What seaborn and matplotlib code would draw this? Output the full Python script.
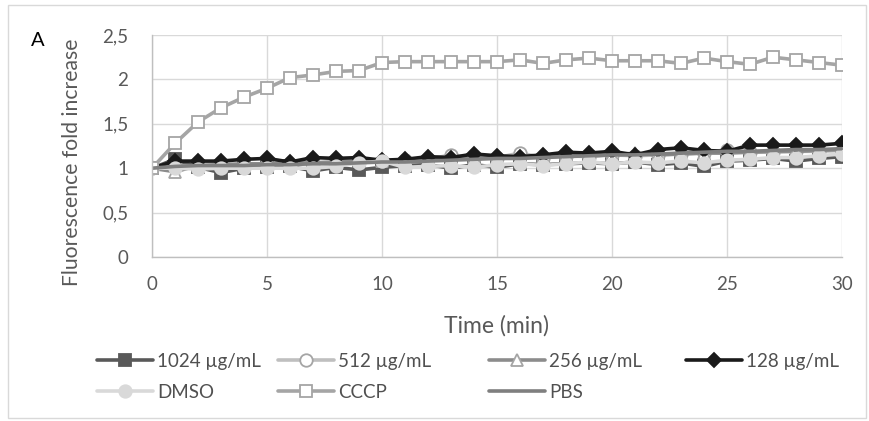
import matplotlib
matplotlib.use("Agg")
import matplotlib.pyplot as plt
import seaborn as sns
import pandas as pd
from matplotlib.patches import Rectangle

sns.set_theme(style="white")
plt.rcParams['font.family'] = ['Lato', 'DejaVu Sans']

# ---------------- data ----------------
time_min = list(range(31))
c1024 = [1.00, 1.10, 1.01, 0.95, 1.00, 1.01, 1.02, 0.97, 1.01, 0.98, 1.01, 1.03, 1.04, 1.00, 1.04, 1.01,
         1.05, 1.04, 1.05, 1.06, 1.05, 1.07, 1.04, 1.06, 1.02, 1.08, 1.09, 1.11, 1.08, 1.11, 1.13]
c512 = [1.00, 1.03, 1.02, 1.03, 1.04, 1.05, 1.04, 1.06, 1.07, 1.08, 1.08, 1.09, 1.10, 1.15, 1.11, 1.12,
        1.17, 1.12, 1.14, 1.13, 1.15, 1.14, 1.15, 1.16, 1.17, 1.21, 1.18, 1.18, 1.19, 1.19, 1.20]
c256 = [1.00, 0.96, 1.03, 1.04, 1.05, 1.05, 1.06, 1.06, 1.07, 1.08, 1.08, 1.09, 1.10, 1.10, 1.11, 1.12,
        1.12, 1.13, 1.16, 1.14, 1.15, 1.17, 1.15, 1.16, 1.17, 1.17, 1.18, 1.19, 1.19, 1.20, 1.21]
c128 = [1.00, 1.08, 1.08, 1.08, 1.10, 1.11, 1.07, 1.12, 1.11, 1.12, 1.09, 1.10, 1.13, 1.12, 1.16, 1.14,
        1.13, 1.15, 1.18, 1.17, 1.19, 1.15, 1.21, 1.23, 1.20, 1.19, 1.26, 1.26, 1.26, 1.26, 1.28]
dmso = [1.00, 1.00, 0.99, 1.00, 1.00, 1.00, 1.00, 1.00, 1.02, 1.06, 1.08, 1.01, 1.02, 1.03, 1.01, 1.04,
        1.05, 1.03, 1.05, 1.07, 1.05, 1.07, 1.06, 1.08, 1.06, 1.09, 1.10, 1.12, 1.12, 1.14, 1.16]
cccp = [1.00, 1.28, 1.52, 1.68, 1.80, 1.90, 2.02, 2.05, 2.09, 2.10, 2.19, 2.20, 2.20, 2.20, 2.20, 2.20,
        2.22, 2.18, 2.22, 2.24, 2.21, 2.21, 2.21, 2.18, 2.24, 2.20, 2.17, 2.25, 2.22, 2.19, 2.16]
pbs = [1.00, 1.02, 1.03, 1.03, 1.03, 1.04, 1.04, 1.05, 1.05, 1.06, 1.07, 1.07, 1.08, 1.09, 1.10, 1.11,
       1.11, 1.12, 1.13, 1.14, 1.15, 1.15, 1.16, 1.17, 1.18, 1.19, 1.19, 1.20, 1.21, 1.21, 1.22]

series_names = ["1024 µg/mL", "512 µg/mL", "256 µg/mL", "128 µg/mL", "DMSO", "CCCP", "PBS"]
series_values = [c1024, c512, c256, c128, dmso, cccp, pbs]
y_ticks = [0, 0.5, 1, 1.5, 2, 2.5]
y_tick_labels = ["0", "0,5", "1", "1,5", "2", "2,5"]
x_ticks = [0, 5, 10, 15, 20, 25, 30]

# ---------------- styles ----------------
styles = {
    "1024 µg/mL": dict(color="#595959", marker="s", mfc="#595959", mec="#595959", ms=8.5),
    "512 µg/mL": dict(color="#bfbfbf", marker="o", mfc="#ffffff", mec="#a5a5a5", ms=9),
    "256 µg/mL": dict(color="#8c8c8c", marker="^", mfc="#ffffff", mec="#a5a5a5", ms=9),
    "128 µg/mL": dict(color="#1a1a1a", marker="D", mfc="#1a1a1a", mec="#1a1a1a", ms=7.5),
    "DMSO": dict(color="#d9d9d9", marker="o", mfc="#d9d9d9", mec="#d9d9d9", ms=9),
    "CCCP": dict(color="#a5a5a5", marker="s", mfc="#ffffff", mec="#a5a5a5", ms=8.5),
    "PBS": dict(color="#7f7f7f", marker="_", mfc="#7f7f7f", mec="#7f7f7f", ms=8),
}

W, H = 870, 421
fig = plt.figure(figsize=(W / 100, H / 100), dpi=100)
fig.patch.set_facecolor("white")
fig.patches.append(Rectangle((8 / W, 1 - 418 / H), (866 - 8) / W, (418 - 5) / H,
                             transform=fig.transFigure, fill=False, edgecolor="#d9d9d9", lw=1))

ax = fig.add_axes([152 / W, 1 - 257 / H, (842 - 152) / W, (257 - 35) / H])

df = pd.DataFrame({"Time": time_min})
handles = {}
for name, vals in zip(series_names, series_values):
    df[name] = vals
    st = styles[name]
    sns.lineplot(data=df, x="Time", y=name, ax=ax, color=st["color"], lw=2.6,
                 marker=st["marker"], markersize=st["ms"], markerfacecolor=st["mfc"],
                 markeredgecolor=st["mec"], markeredgewidth=1.3, legend=False)
    handles[name] = ax.lines[-1]

ax.set_xlim(0, 30)
ax.set_ylim(0, 2.5)
ax.set_xticks(x_ticks)
ax.set_yticks(y_ticks)
ax.set_yticklabels(y_tick_labels)
ax.set_xlabel("")
ax.set_ylabel("")
ax.grid(True, color="#d9d9d9", lw=1)
ax.set_axisbelow(True)
for s in ["top", "right"]:
    ax.spines[s].set_visible(False)
for s in ["left", "bottom"]:
    ax.spines[s].set_color("#bfbfbf")
    ax.spines[s].set_linewidth(1)
ax.tick_params(axis="both", length=0, labelsize=13.5, colors="#595959")
ax.tick_params(axis="y", pad=17)
ax.tick_params(axis="x", pad=14)

fig.text(72 / W, 1 - 162 / H, "Fluorescence fold increase", rotation=90, ha="center", va="center",
         fontsize=15.2, color="#595959")
fig.text(497 / W, 1 - 326 / H, "Time (min)", ha="center", va="center", fontsize=16.5, color="#595959")
fig.text(38 / W, 1 - 40 / H, "A", ha="center", va="center", fontsize=14.5, color="black")

# legend: 4 columns laid out like the reference
cols = [["1024 µg/mL", "DMSO"], ["512 µg/mL", "CCCP"], ["256 µg/mL", "PBS"], ["128 µg/mL"]]
col_x = [97, 278, 489, 686]
for names, x0 in zip(cols, col_x):
    fig.legend([handles[n] for n in names], names, loc="upper left",
               bbox_to_anchor=(x0 / W, 1 - 353 / H), frameon=False, fontsize=13.5,
               handlelength=3.0, handletextpad=0.2, borderpad=0, labelspacing=0.72,
               labelcolor="#505050", borderaxespad=0)

fig.savefig("out.png", dpi=100)
